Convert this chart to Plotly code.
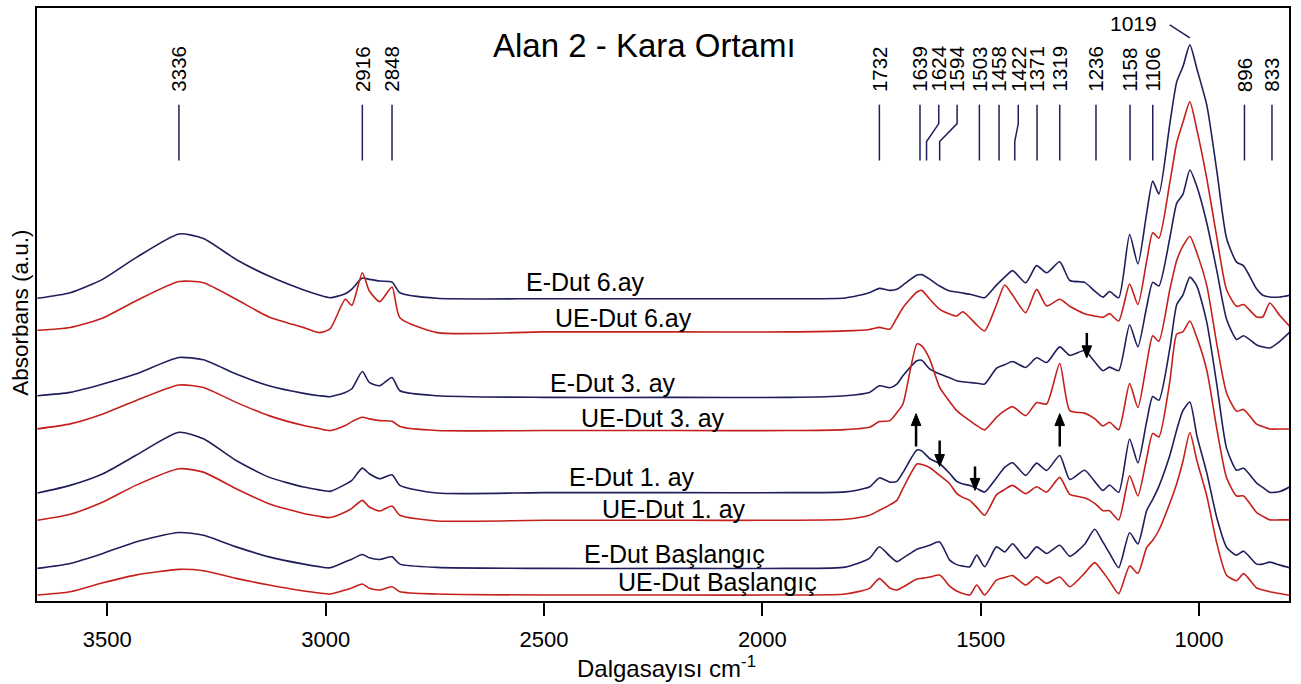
import plotly.graph_objects as go

# wavenumber grid (cm-1)
wn = [3660, 3585, 3510, 3435, 3336, 3280, 3205, 3130, 3050, 3015,
      2990, 2955, 2940, 2916, 2900, 2876, 2848, 2830, 2745, 2500,
      2200, 1940, 1810, 1755, 1732, 1708, 1692, 1678, 1646, 1635,
      1617, 1594, 1571, 1555, 1541, 1525, 1509, 1491, 1464, 1445,
      1427, 1397, 1372, 1349, 1319, 1296, 1262, 1239, 1220, 1205,
      1184, 1159, 1140, 1120, 1106, 1092, 1067, 1051, 1037, 1021,
      1005, 982, 959, 937, 914, 898, 868, 854, 838, 815,
      792]

# stacked absorbance (a.u.)
e_dut_6 = [303.7, 309.3, 323, 344.3, 368.3, 363.7, 342.7, 326, 312, 307,
           304.3, 308.3, 313, 324, 322.7, 321, 320, 309.3, 303.7, 303.3,
           303.3, 303.3, 304, 309.3, 313.7, 311.7, 312.7, 317, 327, 327.5,
           323, 316, 311, 310, 309, 307.7, 306, 304.3, 317, 325,
           331.5, 319.3, 336.5, 329.3, 340.3, 321.6, 319.7, 311, 304.9, 310.5,
           304.2, 367.7, 338.2, 389, 421.3, 408.4, 478.6, 521.1, 536, 558,
           534, 497, 430.6, 364, 340, 336.3, 313, 306.8, 305, 305,
           306.8]
ue_dut_6 = [271.7, 274.5, 284, 301, 320.5, 319.3, 302.7, 285, 274.3, 269.3,
            273, 302.7, 296.7, 329.3, 311, 300.3, 315, 284.3, 269.3, 270,
            270, 270, 271, 272.5, 274.5, 272.7, 284, 294.3, 310, 311.7,
            303, 292.7, 288, 286, 290.3, 284.3, 277, 271, 297, 317,
            307, 289.3, 312.7, 296, 302.7, 295.7, 288.3, 286, 284.6, 288.3,
            280.9, 317.9, 297.5, 341, 369.6, 364, 419.5, 460, 480, 500.8,
            473, 423.2, 364, 312.3, 295.7, 297.5, 285, 285, 299, 286.4,
            275.4]
e_dut_3 = [206, 209.3, 217.7, 227.7, 244.3, 242, 227.7, 216, 208.3, 206,
           205, 209.3, 213, 230.3, 219.3, 216, 224.3, 211, 206, 204.3,
           204.3, 204.3, 206, 209.3, 216, 214, 217.7, 226, 241, 241.5,
           233, 227.7, 224, 221, 220, 219.3, 218.5, 217.7, 233.5, 237,
           240.3, 234.3, 244, 239.3, 255, 246.5, 251.3, 240, 231, 234.7,
           231, 277.2, 255, 295, 319.7, 316, 364, 399.2, 408, 432.4,
           415.8, 378.8, 330.8, 282.8, 262.4, 266.1, 256.9, 255, 253.9, 260.6,
           269.8]
ue_dut_3 = [172.7, 177.7, 187.7, 201, 216.7, 214.3, 199.3, 186, 176, 173,
            171, 176, 180, 184.3, 182.7, 181, 180.3, 175, 171, 171,
            171, 171, 172, 174.3, 180, 181, 189, 197.7, 258, 256,
            243, 214.3, 200, 191, 186, 181, 176, 171.7, 184.3, 191,
            195, 186, 199, 197.7, 238.3, 191, 188.5, 183, 175.6, 179.3,
            171.9, 218.1, 194.1, 238, 266.1, 260.6, 312.3, 341.9, 356, 366,
            349.3, 316, 256.9, 208.8, 190.4, 192.2, 177.4, 175, 172.6, 172.6,
            172.6]
e_dut_1 = [108.3, 116, 127.7, 146, 169.3, 162.7, 141, 124.3, 114.3, 111.5,
           110, 117, 121, 133.3, 127.7, 122.7, 126.7, 116, 108.3, 108.7,
           108.7, 108.7, 109.5, 114.3, 123.5, 119.3, 120, 129, 151.5, 150.5,
           143, 137.7, 128, 120, 117.5, 116, 113, 109.3, 123.5, 134,
           138.7, 126, 138.3, 131, 146, 122, 131.2, 120, 110.9, 116.4,
           109, 162.6, 138.6, 180, 205.2, 201.4, 253.2, 297.5, 307, 325,
           316, 279.1, 216.2, 153.4, 131.2, 133.1, 118.3, 114, 109, 109.8,
           114.6]
ue_dut_1 = [81, 87, 99.3, 116, 132.7, 129.3, 112.7, 97.7, 87.7, 85,
            83.7, 89.3, 93, 101, 94.3, 90.3, 95.3, 86, 80.3, 81,
            81, 81, 82, 86, 91, 96.5, 101, 113, 137.5, 137,
            134, 126, 117.7, 108, 104, 101, 94, 86, 106.5, 112,
            116, 107.7, 114.7, 109.3, 124, 107, 103.5, 98, 90.6, 90.6,
            81.4, 125.7, 105.4, 143, 168.2, 164.5, 219.9, 268, 270, 280.9,
            264.3, 231, 171.9, 123.8, 105.4, 105.4, 88.7, 85, 81.4, 81.4,
            81.4]
e_dut_0 = [32.7, 37.7, 47.7, 59.3, 68.7, 66, 54.3, 44.3, 37, 34.5,
           33.3, 39.3, 42, 46.7, 43.3, 41.7, 44.3, 37, 33.7, 32.7,
           32.7, 32.7, 34, 42.7, 54.5, 45, 39.5, 43, 52, 53.5,
           56, 59.3, 41, 36.5, 35, 34.3, 46, 34.3, 54.3, 49.3,
           57.5, 42.7, 54.3, 47.7, 56, 45, 57, 72, 59, 48,
           33.5, 68.4, 57.3, 90.6, 102, 115, 146, 171.9, 191, 199.6,
           166, 128, 83, 54, 46, 50, 37, 37, 39, 36,
           33.3]
ue_dut_0 = [6, 9.3, 18.3, 26, 31.7, 30.3, 22.7, 16, 10, 8,
            7, 11, 13, 17, 12.7, 11, 14.3, 9.3, 7, 6,
            6, 6, 7, 12.7, 22.5, 13, 11, 14, 22, 22.7,
            24, 26, 15, 10, 7.5, 6, 16, 6, 21, 23.5,
            25.5, 16, 24.3, 17.7, 24, 14.3, 28, 38.5, 29, 20,
            7.4, 35.2, 27.8, 53.6, 61, 71, 98, 118, 140, 169,
            141, 105, 57.3, 25.9, 20.4, 27.5, 13, 11, 9.3, 7.5,
            5.6]

series_names = ["E-Dut 6.ay", "UE-Dut 6.ay", "E-Dut 3. ay", "UE-Dut 3. ay",
                "E-Dut 1. ay", "UE-Dut 1. ay", "E-Dut Başlangıç", "UE-Dut Başlangıç"]
series_vals = [e_dut_6, ue_dut_6, e_dut_3, ue_dut_3, e_dut_1, ue_dut_1, e_dut_0, ue_dut_0]
# label positions (wavenumber, absorbance)
label_wn = [2404, 2317, 2343, 2251, 2299, 2203, 2202, 2102]
label_y = [320, 284, 219, 184, 124, 92, 47, 19]

# peak markers
peak_wn = [3336, 2916, 2848, 1732, 1639, 1624, 1594, 1503, 1458, 1422,
           1371, 1319, 1236, 1158, 1106, 896, 833]
peak_text_wn = [3336, 2916, 2848, 1732, 1639, 1596, 1554, 1503, 1458, 1414,
                1371, 1319, 1236, 1158, 1106, 896, 833]

# arrows: (wn, head y, tail y)
arrow_wn = [1648, 1319, 1594, 1513, 1257]
arrow_head = [188, 188, 135, 111, 244]
arrow_tail = [155, 155, 161, 135, 269]

NAVY = "#1f1f5c"
RED = "#c4201c"
FONT = "Liberation Sans, Arial, sans-serif"

fig = go.Figure()
for i, (nm, vals) in enumerate(zip(series_names, series_vals)):
    fig.add_trace(go.Scatter(
        x=wn, y=vals, mode="lines", name=nm,
        line=dict(color=NAVY if i % 2 == 0 else RED, width=1.6, shape="spline", smoothing=0.6),
        showlegend=False, hoverinfo="x+name"))

ann = []
for nm, lx, ly in zip(series_names, label_wn, label_y):
    ann.append(dict(x=lx, y=ly, xref="x", yref="y", text=nm, showarrow=False,
                    font=dict(family=FONT, size=25, color="black"),
                    xanchor="center", yanchor="middle"))

shapes = []
TOP, KINK1, KINK2, BOT = 498, 479, 461, 442
for p, t in zip(peak_wn, peak_text_wn):
    if p == t:
        path = f"M {t},{TOP} L {p},{BOT}"
    else:
        path = f"M {t},{TOP} L {t},{KINK1} L {p},{KINK2} L {p},{BOT}"
    shapes.append(dict(type="path", path=path, xref="x", yref="y",
                       line=dict(color=NAVY, width=1.5)))
    ann.append(dict(x=t, y=509, xref="x", yref="y", text=str(p), showarrow=False,
                    textangle=-90, font=dict(family=FONT, size=20.5, color="black"),
                    xanchor="center", yanchor="bottom"))

# 1019 main peak label
shapes.append(dict(type="line", x0=1067, y0=578, x1=1021, y1=565, xref="x", yref="y",
                   line=dict(color=NAVY, width=1.5)))
ann.append(dict(x=1150, y=579, xref="x", yref="y", text="1019", showarrow=False,
                font=dict(family=FONT, size=21, color="black"),
                xanchor="center", yanchor="middle"))

# arrows drawn as shaft + filled head
HEAD_H, HEAD_HALF_W = 12, 11
for a, h, tl in zip(arrow_wn, arrow_head, arrow_tail):
    base = h - HEAD_H if h > tl else h + HEAD_H
    shapes.append(dict(type="line", x0=a, y0=tl, x1=a, y1=base, xref="x", yref="y",
                       line=dict(color="black", width=2.5)))
    shapes.append(dict(type="path", xref="x", yref="y",
                       path=f"M {a - HEAD_HALF_W},{base} L {a + HEAD_HALF_W},{base} L {a},{h} Z",
                       fillcolor="black", line=dict(color="black", width=1)))

# title and axis titles
ann.append(dict(x=2269, y=557, xref="x", yref="y", text="Alan 2 - Kara Ortamı",
                showarrow=False, font=dict(family=FONT, size=33, color="black"),
                xanchor="center", yanchor="middle"))
ann.append(dict(x=0.5024, y=-0.112, xref="paper", yref="paper",
                text="Dalgasayısı cm<sup>-1</sup>", showarrow=False,
                font=dict(family=FONT, size=24, color="black"),
                xanchor="center", yanchor="middle"))
ann.append(dict(x=-0.0128, y=0.486, xref="paper", yref="paper",
                text="Absorbans (a.u.)", showarrow=False, textangle=-90,
                font=dict(family=FONT, size=22.5, color="black"),
                xanchor="center", yanchor="middle"))

fig.update_layout(
    width=1301, height=684,
    margin=dict(l=37, r=12, t=6, b=83),
    paper_bgcolor="white", plot_bgcolor="white",
    annotations=ann, shapes=shapes,
    xaxis=dict(range=[3661, 794], tickvals=[3500, 3000, 2500, 2000, 1500, 1000],
               ticks="outside", ticklen=13, tickwidth=1.5, tickcolor="black",
               ticklabelstandoff=5,
               showline=True, mirror=True, linecolor="black", linewidth=1.5,
               showgrid=False, zeroline=False,
               tickfont=dict(family=FONT, size=22, color="black")),
    yaxis=dict(range=[0, 595], showticklabels=False, ticks="",
               showline=True, mirror=True, linecolor="black", linewidth=1.5,
               showgrid=False, zeroline=False),
)

fig.write_html("out.html", config={"displayModeBar": False},
               post_script="document.body.style.margin='0px';document.body.style.padding='0px';")
